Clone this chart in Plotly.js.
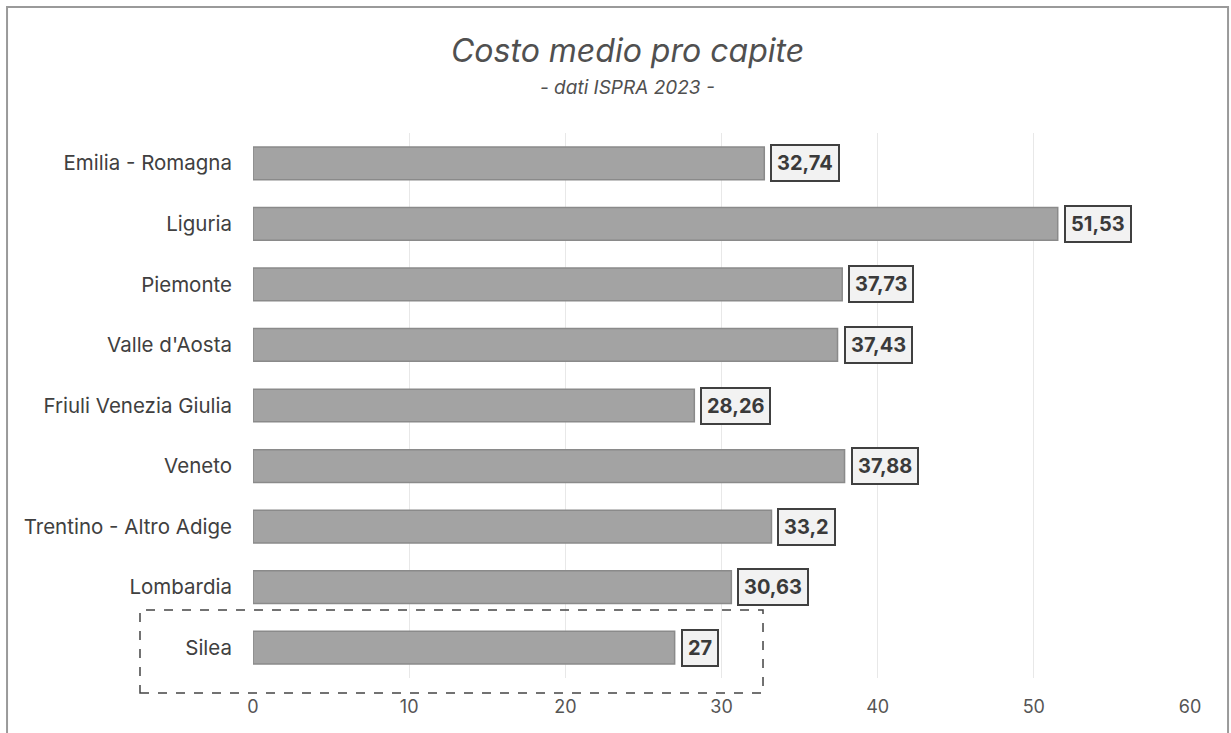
<!DOCTYPE html>
<html><head><meta charset="utf-8">
<script src="https://cdn.plot.ly/plotly-3.0.1.min.js"></script>
<style>html,body{margin:0;padding:0;background:#fff}#chart{width:1231px;height:733px}</style>
</head><body><div id="chart"></div>
<script>
const categories = ["Emilia - Romagna","Liguria","Piemonte","Valle d'Aosta","Friuli Venezia Giulia","Veneto","Trentino - Altro Adige","Lombardia","Silea"];
const values = [32.74, 51.53, 37.73, 37.43, 28.26, 37.88, 33.2, 30.63, 27];
const valueLabels = ["32,74","51,53","37,73","37,43","28,26","37,88","33,2","30,63","27"];
const tickValues = [0,10,20,30,40,50,60];

const FONT = "Inter, 'Noto Sans', sans-serif";

const trace = {
  type: 'bar', orientation: 'h',
  x: values, y: categories,
  width: 0.54,
  marker: {color: '#a3a3a3', line: {color: '#8a8a8a', width: 1.5}},
  hoverinfo: 'x+y'
};

const annotations = values.map((v, i) => ({
  x: v, y: categories[i], xref: 'x', yref: 'y',
  text: '<b>' + valueLabels[i] + '</b>',
  showarrow: false, xanchor: 'left', xshift: 6,
  font: {family: FONT, size: 20, color: '#3a3a3a'},
  bgcolor: '#f2f2f2', bordercolor: '#404040', borderwidth: 2, borderpad: 5
}));

annotations.push({
  xref: 'paper', yref: 'paper', x: 0.4, y: 1.152, xanchor: 'center', yanchor: 'middle',
  text: '<i>Costo medio pro capite</i>', showarrow: false,
  font: {family: FONT, size: 32, color: '#505050'}
});
annotations.push({
  xref: 'paper', yref: 'paper', x: 0.4, y: 1.0826, xanchor: 'center', yanchor: 'middle',
  text: '<i>- dati ISPRA 2023 -</i>', showarrow: false,
  font: {family: FONT, size: 19, color: '#505050'}
});

const layout = {
  width: 1231, height: 733,
  margin: {l: 253, r: 41, t: 133, b: 55},
  paper_bgcolor: '#ffffff', plot_bgcolor: '#ffffff',
  showlegend: false,
  bargap: 0.46,
  xaxis: {
    range: [0, 60], tickvals: tickValues, ticktext: tickValues.map(String),
    showgrid: true, gridcolor: '#e8e8e8', gridwidth: 1,
    zeroline: false, showline: false, ticks: '',
    tickfont: {family: FONT, size: 18, color: '#555555'}, ticklabelstandoff: 16
  },
  yaxis: {
    autorange: 'reversed', type: 'category',
    showgrid: false, zeroline: false, showline: false, ticks: '',
    ticklabelstandoff: 20,
    tickfont: {family: FONT, size: 20.5, color: '#404040'}
  },
  annotations: annotations,
  shapes: [
    {type: 'rect', xref: 'paper', yref: 'paper', x0: -0.2625, x1: 1.0406, y0: -0.2, y1: 1.2312,
     line: {color: '#9a9a9a', width: 2}, fillcolor: 'rgba(0,0,0,0)', layer: 'below'},
    {type: 'rect', xref: 'paper', yref: 'paper', x0: -0.1206, x1: 0.5443, y0: -0.0275, y1: 0.1248,
     line: {color: '#444444', width: 1.5, dash: 'dash'}, fillcolor: 'rgba(0,0,0,0)'}
  ]
};

Plotly.newPlot('chart', [trace], layout, {displayModeBar: false, staticPlot: true});
</script>
</body></html>
